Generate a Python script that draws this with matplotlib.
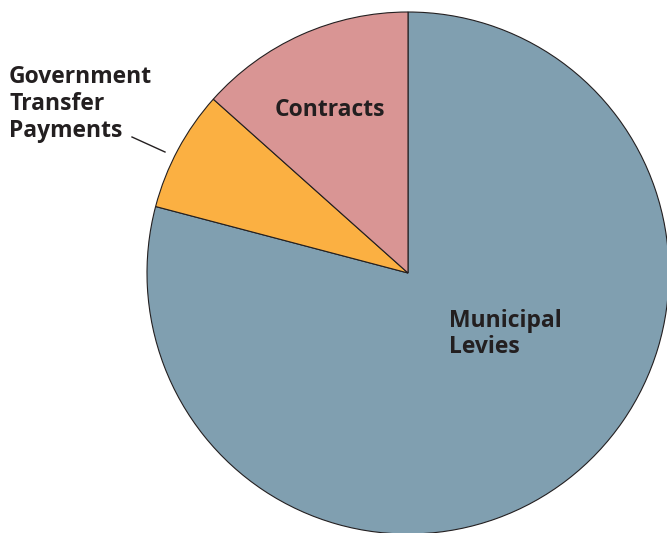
import matplotlib.pyplot as plt

labels = ['Municipal\nLevies', 'Government\nTransfer\nPayments', 'Contracts']
shares = [79.1, 7.5, 13.4]
colors = ['#809fb0', '#fbb042', '#d99594']

W, H = 667, 533
fig = plt.figure(figsize=(W / 100, H / 100), dpi=100)
ax = fig.add_axes([0, 0, 1, 1])

cx, cy, r = 408, H - 273, 261
ax.pie(shares, colors=colors, startangle=90, counterclock=False,
       center=(cx, cy), radius=r, frame=True,
       wedgeprops=dict(edgecolor='#231f20', linewidth=0.8))
ax.set_xlim(0, W)
ax.set_ylim(0, H)
ax.set_aspect('equal')
ax.axis('off')

txt = dict(fontfamily='Open Sans', fontweight='bold', fontsize=16.5,
           color='#231f20', linespacing=1.15)
ax.text(449, H - 334, labels[0], ha='left', va='center', **txt)
ax.text(9, H - 104, labels[1], ha='left', va='center', **txt)
ax.text(330, H - 110, labels[2], ha='center', va='center', **txt)
ax.plot([132, 165], [H - 137, H - 152], color='#231f20', lw=1)

fig.savefig('out.png', dpi=100)
